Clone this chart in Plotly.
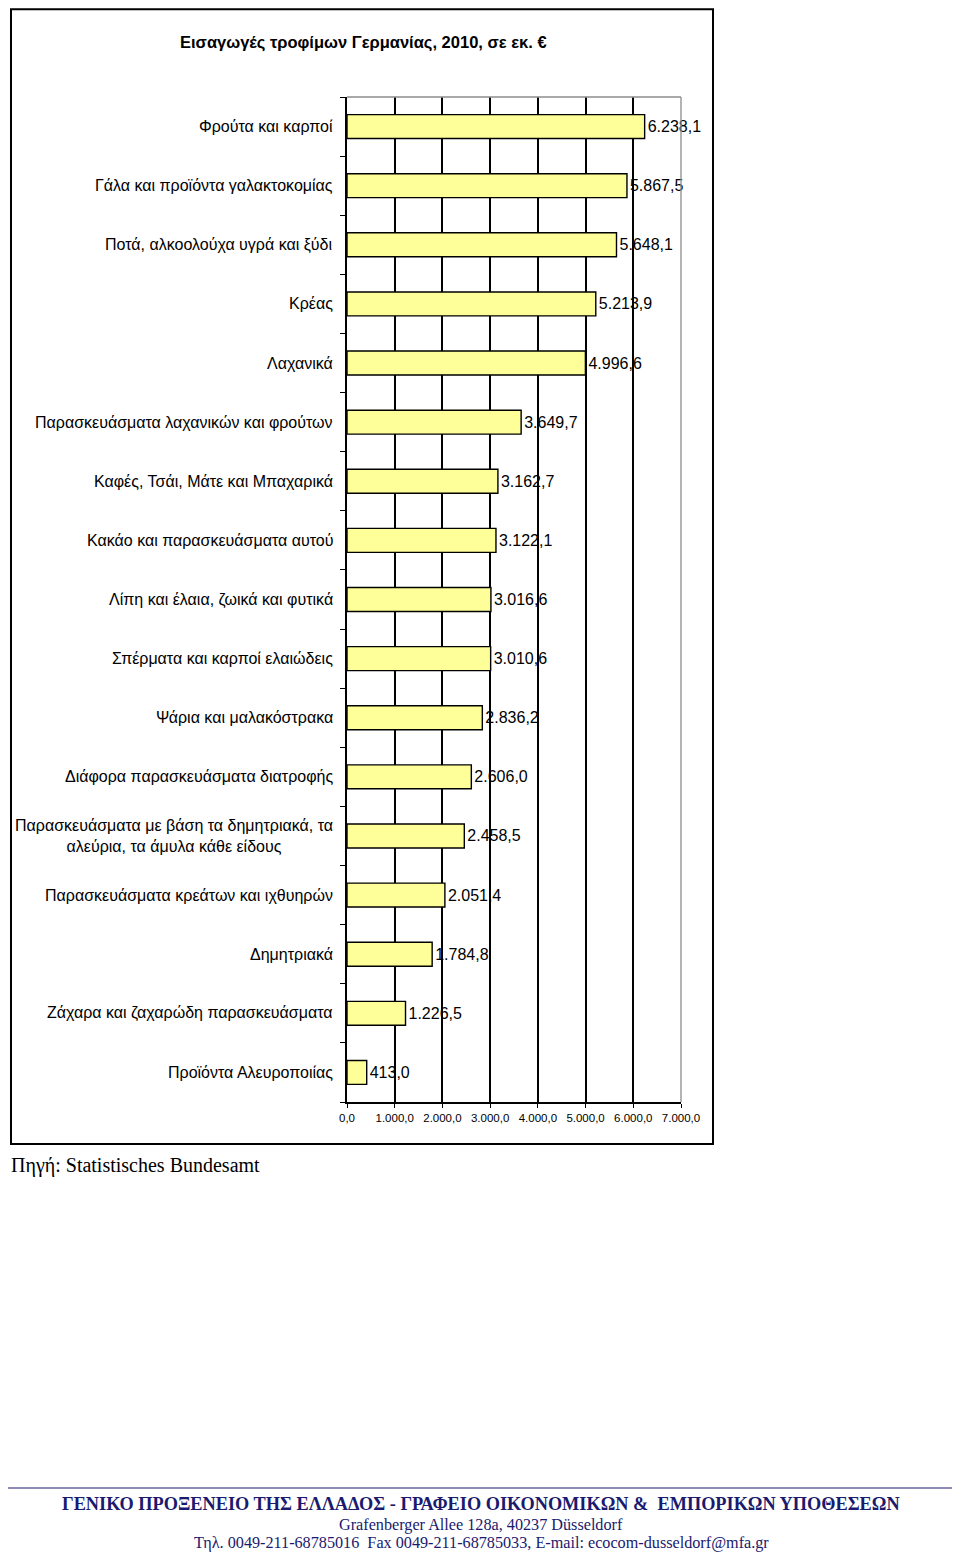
import plotly.graph_objects as go

categories = [
    "Φρούτα και καρποί",
    "Γάλα και προϊόντα γαλακτοκομίας",
    "Ποτά, αλκοολούχα υγρά και ξύδι",
    "Κρέας",
    "Λαχανικά",
    "Παρασκευάσματα λαχανικών και φρούτων",
    "Καφές, Τσάι, Μάτε και Μπαχαρικά",
    "Κακάο και παρασκευάσματα αυτού",
    "Λίπη και έλαια, ζωικά και φυτικά",
    "Σπέρματα και καρποί ελαιώδεις",
    "Ψάρια και μαλακόστρακα",
    "Διάφορα παρασκευάσματα διατροφής",
    "Παρασκευάσματα με βάση τα δημητριακά, τα<br>αλεύρια, τα άμυλα κάθε είδους",
    "Παρασκευάσματα κρεάτων και ιχθυηρών",
    "Δημητριακά",
    "Ζάχαρα και ζαχαρώδη παρασκευάσματα",
    "Προϊόντα Αλευροποιίας",
]
values = [6238.1, 5867.5, 5648.1, 5213.9, 4996.6, 3649.7, 3162.7, 3122.1,
          3016.6, 3010.6, 2836.2, 2606.0, 2458.5, 2051.4, 1784.8, 1226.5, 413.0]
x_ticks = [0, 1000, 2000, 3000, 4000, 5000, 6000, 7000]


def fmt(v):
    s = f"{v:,.1f}"
    return s.replace(",", "X").replace(".", ",").replace("X", ".")


W, H = 960, 1560
OFF = 8  # page body margin in the browser


def px(x):
    return (x - OFF) / W


def py(y):
    return 1 - (y - OFF) / H


x0, x1 = 347, 681
y0, y1 = 97, 1102

pos = list(range(len(categories)))
SANS = "Liberation Sans, Arial"
SERIF = "Liberation Serif, Times New Roman"

fig = go.Figure()
fig.add_trace(go.Bar(
    x=values, y=pos, orientation="h", width=0.405,
    marker=dict(color="#FFFF99", line=dict(color="black", width=1.4)),
    text=[fmt(v) for v in values], textposition="outside",
    textfont=dict(family=SANS, size=16, color="black"),
    cliponaxis=False, hoverinfo="skip",
))

fig.update_layout(
    width=W, height=H, margin=dict(l=0, r=0, t=0, b=0, autoexpand=False),
    paper_bgcolor="white", plot_bgcolor="white", showlegend=False,
    font=dict(family=SANS, color="black"),
    xaxis=dict(
        domain=[px(x0), px(x1)], range=[0, 7000], automargin=False,
        tickvals=x_ticks, ticktext=[fmt(t) for t in x_ticks],
        tickfont=dict(size=11.5), ticks="outside", ticklen=4, tickcolor="black",
        showgrid=True, gridcolor="black", gridwidth=1.5,
        showline=True, linecolor="black", linewidth=1.5, zeroline=False,
    ),
    yaxis=dict(
        domain=[py(y1), py(y0)], range=[len(categories) - 0.5, -0.5],
        automargin=False,
        tickvals=[i - 0.5 for i in range(len(categories) + 1)],
        showticklabels=False, ticks="outside", ticklen=5, tickcolor="black",
        showgrid=False, showline=True, linecolor="black", linewidth=1.5,
        zeroline=False,
    ),
)

# category labels
for i, c in enumerate(categories):
    fig.add_annotation(x=px(335), xref="paper", y=i, yref="y", text=c,
                       showarrow=False, xanchor="right", align="center",
                       font=dict(size=16, family=SANS))

# plot area gray top/right border
fig.add_shape(type="line", xref="paper", yref="paper",
              x0=px(x0), x1=px(x1), y0=py(y0), y1=py(y0),
              line=dict(color="#8c8c8c", width=1.3))
fig.add_shape(type="line", xref="paper", yref="paper",
              x0=px(x1), x1=px(x1), y0=py(y0), y1=py(y1),
              line=dict(color="#8c8c8c", width=1.3))

# chart border
fig.add_shape(type="rect", xref="paper", yref="paper",
              x0=px(11), x1=px(713), y0=py(9.2), y1=py(1144),
              line=dict(color="black", width=2))

# title
fig.add_annotation(x=px(363), y=py(42), xref="paper", yref="paper",
                   text="<b>Εισαγωγές τροφίμων Γερμανίας, 2010, σε εκ. €</b>",
                   showarrow=False, xanchor="center", yanchor="middle",
                   font=dict(size=16.5, family=SANS))

# source
fig.add_annotation(x=px(8.5), y=py(1165), xref="paper", yref="paper",
                   text="Πηγή: Statistisches Bundesamt", showarrow=False,
                   xanchor="left", yanchor="middle",
                   font=dict(size=20, family=SERIF))

# footer
navy = "#1a1a6e"
fig.add_shape(type="line", xref="paper", yref="paper",
              x0=px(8), x1=px(955), y0=py(1488), y1=py(1488),
              line=dict(color=navy, width=1.2))
fig.add_annotation(x=px(481), y=py(1504), xref="paper", yref="paper",
                   text="<b>ΓΕΝΙΚΟ ΠΡΟΞΕΝΕΙΟ ΤΗΣ ΕΛΛΑΔΟΣ - ΓΡΑΦΕΙΟ ΟΙΚΟΝΟΜΙΚΩΝ &amp;  ΕΜΠΟΡΙΚΩΝ ΥΠΟΘΕΣΕΩΝ</b>",
                   showarrow=False, xanchor="center", yanchor="middle",
                   font=dict(size=18.3, color=navy, family=SERIF))
fig.add_annotation(x=px(481), y=py(1525), xref="paper", yref="paper",
                   text="Grafenberger Allee 128a, 40237 Düsseldorf",
                   showarrow=False, xanchor="center", yanchor="middle",
                   font=dict(size=16.2, color=navy, family=SERIF))
fig.add_annotation(x=px(481), y=py(1543), xref="paper", yref="paper",
                   text="Τηλ. 0049-211-68785016  Fax 0049-211-68785033, E-mail: ecocom-dusseldorf@mfa.gr",
                   showarrow=False, xanchor="center", yanchor="middle",
                   font=dict(size=16.2, color=navy, family=SERIF))

fig.write_html("out.html")
